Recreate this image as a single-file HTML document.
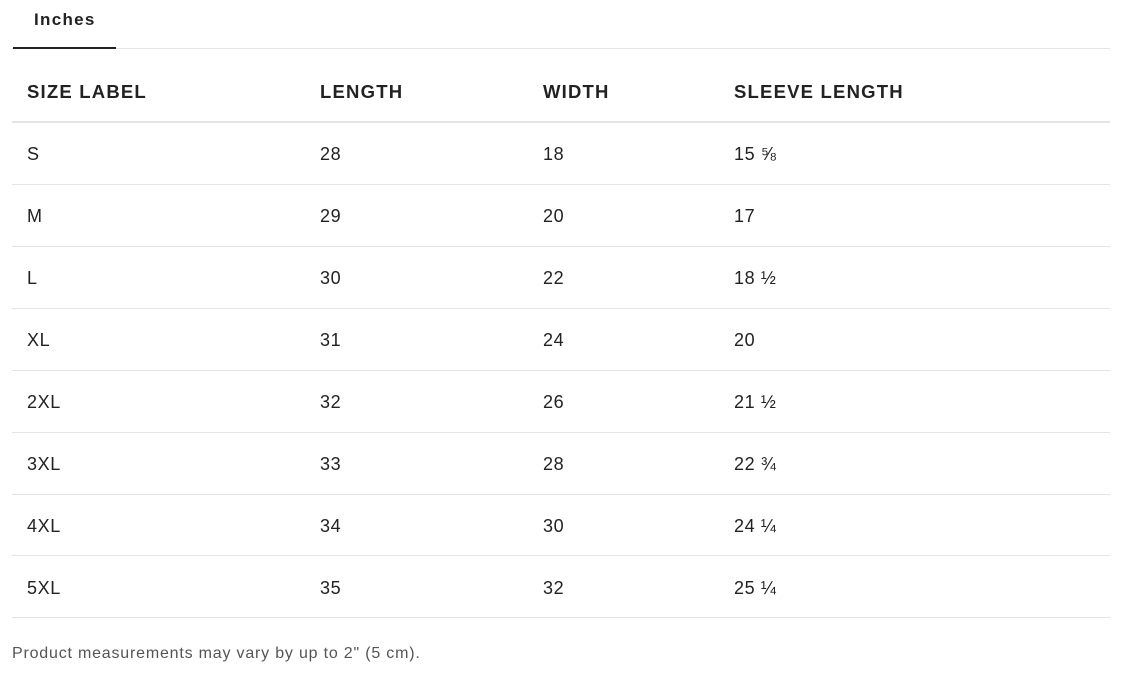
<!DOCTYPE html>
<html><head><meta charset="utf-8"><style>
body{margin:0;width:1131px;height:676px;background:#fff;font-family:"Liberation Sans",Arial,sans-serif;color:#222;position:relative;overflow:hidden}
.a{position:absolute;white-space:nowrap}
.tab{left:34px;top:10px;font-size:17px;font-weight:bold;color:#222;letter-spacing:1.3px}
.h{font-size:18.5px;font-weight:bold;color:#222;top:81px;letter-spacing:1.2px}
.c{font-size:18px;color:#222;letter-spacing:0.6px}
.ln{position:absolute;left:12px;width:1098px;height:1px;background:#e4e4e4}
.foot{left:12px;top:645px;font-size:16px;color:#555;letter-spacing:0.8px}
</style></head><body>
<div class="a tab">Inches</div>
<div class="ln" style="top:48px"></div>
<div style="position:absolute;left:13px;top:47px;width:103px;height:2px;background:#222"></div>
<div class="a h" style="left:27px">SIZE LABEL</div>
<div class="a h" style="left:320px">LENGTH</div>
<div class="a h" style="left:543px">WIDTH</div>
<div class="a h" style="left:734px">SLEEVE LENGTH</div>
<div class="ln" style="top:121px;height:2px"></div>
<div id="rows"></div>
<script>
var d=[["S","28","18","15 ⅝"],["M","29","20","17"],["L","30","22","18 ½"],["XL","31","24","20"],["2XL","32","26","21 ½"],["3XL","33","28","22 ¾"],["4XL","34","30","24 ¼"],["5XL","35","32","25 ¼"]];
var xs=[27,320,543,734],h="";
d.forEach(function(r,i){var y=144+i*62;r.forEach(function(t,j){h+='<div class="a c" style="left:'+xs[j]+'px;top:'+y+'px">'+t+'</div>';});h+='<div class="ln" style="top:'+(184+i*61.9)+'px"></div>';});
document.getElementById("rows").innerHTML=h;
</script>
<div class="a foot">Product measurements may vary by up to 2" (5 cm).</div>
</body></html>
